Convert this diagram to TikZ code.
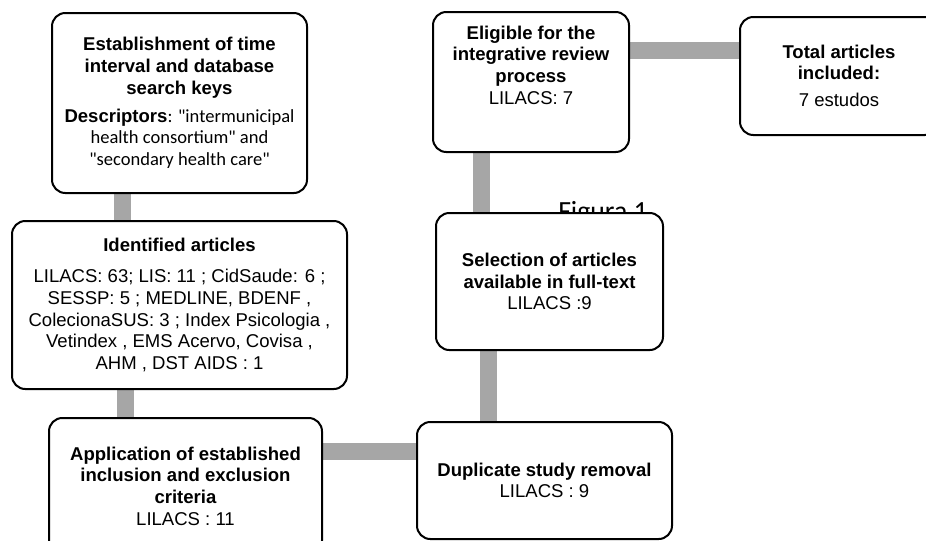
\documentclass[tikz,border=0pt]{standalone}
\usepackage{fontspec}
\setmainfont{Liberation Sans}
\newfontfamily\calib{Carlito}
\definecolor{linkgray}{RGB}{166,166,166}
\begin{document}
\begin{tikzpicture}[x=0.75pt,y=-0.75pt,
  box/.style={draw=black,line width=1.5pt,rounded corners=10pt,fill=white,
    align=center,inner sep=0pt,font=\fontsize{13.9}{16.2}\selectfont},
  txt/.style={align=center,inner sep=0pt,font=\fontsize{13.9}{16.2}\selectfont},
  conn/.style={draw=linkgray,line width=12.75pt}]
\useasboundingbox (0,0) rectangle (926,540);
% caption text partly hidden behind a box
\node[anchor=base west,inner sep=0pt,font=\calib\fontsize{20.8}{24}\selectfont] (fig) at (558,220.5) {Figura 1};
% box centres
\coordinate (cEst) at (179.5,103);
\coordinate (cIdent) at (179.5,305);
\coordinate (cApp) at (185.5,486);
\coordinate (cDup) at (544.5,480.5);
\coordinate (cSel) at (549.5,281.5);
\coordinate (cElig) at (531,82);
\coordinate (cTot) at (839,76);
% connector x / y positions
\coordinate (x1) at (122,0);
\coordinate (x2) at (125.5,0);
\coordinate (y3) at (0,451);
\coordinate (x4) at (488.5,0);
\coordinate (x5) at (481,0);
\coordinate (y6) at (0,50);
% connectors (drawn first, behind boxes)
\draw[conn] (x1 |- cEst) -- (x1 |- cIdent);
\draw[conn] (x2 |- cIdent) -- (x2 |- cApp);
\draw[conn] (cApp |- y3) -- (cDup |- y3);
\draw[conn] (x4 |- cDup) -- (x4 |- cSel);
\draw[conn] (x5 |- cSel) -- (x5 |- cElig);
\draw[conn] (cElig |- y6) -- (cTot |- y6);
% boxes
\node[box,minimum width=191.25pt,minimum height=135pt] (est) at (cEst)
 {\textbf{Establishment of time}\\\textbf{interval and database}\\\textbf{search keys}\\[5pt]
  \textbf{Descriptors}{\calib: "intermunicipal}\\{\calib health consortium" and}\\{\calib "secondary health care"}};
\node[box,minimum width=251.25pt,minimum height=126pt] (ident) at (cIdent)
 {\textbf{Identified articles}\\[7pt]
  LILACS: 63; LIS: 11 ; CidSaude: 6 ;\\
  SESSP: 5 ; MEDLINE, BDENF ,\\
  ColecionaSUS: 3 ; Index Psicologia ,\\
  Vetindex , EMS Acervo, Covisa ,\\
  AHM , DST AIDS : 1};
\node[box,minimum width=204.75pt,minimum height=102pt] (app) at (cApp)
 {\textbf{Application of established}\\\textbf{inclusion and exclusion}\\\textbf{criteria}\\LILACS : 11};
\node[box,minimum width=191.25pt,minimum height=87.75pt] (dup) at (cDup)
 {\textbf{Duplicate study removal}\\LILACS : 9};
\node[box,minimum width=170.25pt,minimum height=102.75pt] (sel) at (cSel)
 {\textbf{Selection of articles}\\\textbf{available in full-text}\\LILACS :9};
\node[box,minimum width=147pt,minimum height=105pt] (elig) at (cElig) {};
\node[txt,anchor=north] (eligtxt) at ([yshift=-11pt]elig.north)
 {\textbf{Eligible for the}\\\textbf{integrative review}\\\textbf{process}\\LILACS: 7};
\node[box,minimum width=148.5pt,minimum height=88.5pt] (tot) at (cTot)
 {\textbf{Total articles}\\\textbf{included:}\\[4pt]7 estudos};
\end{tikzpicture}
\end{document}
